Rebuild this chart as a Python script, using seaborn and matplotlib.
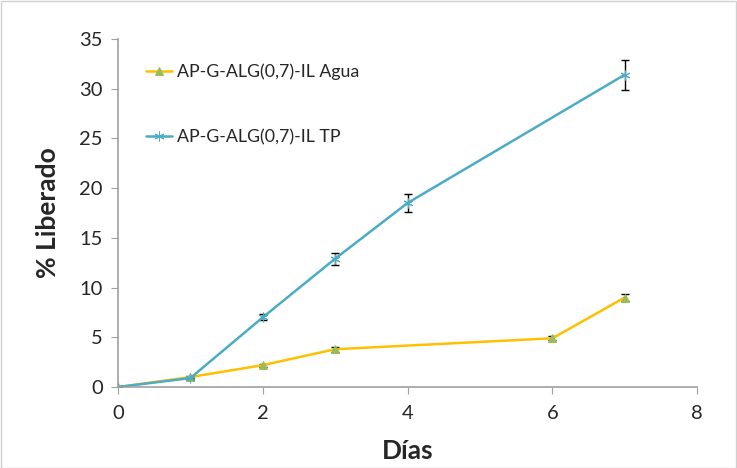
import matplotlib
matplotlib.use("Agg")
import matplotlib.pyplot as plt
import seaborn as sns
import pandas as pd

sns.set_style("white")
plt.rcParams['font.family'] = ['Lato', 'DejaVu Sans']

dias_agua = [0, 1, 2, 3, 6, 7]
lib_agua = [0.0, 1.0, 2.2, 3.8, 4.9, 9.0]
err_agua = [0.0, 0.1, 0.15, 0.25, 0.2, 0.4]

dias_tp = [0, 1, 2, 3, 4, 7]
lib_tp = [0.0, 0.9, 7.0, 12.9, 18.5, 31.4]
err_tp = [0.0, 0.1, 0.3, 0.6, 0.9, 1.5]

lab_agua = "AP-G-ALG(0,7)-IL Agua"
lab_tp = "AP-G-ALG(0,7)-IL TP"

df = pd.concat([
    pd.DataFrame({"Días": dias_agua, "Lib": lib_agua, "err": err_agua, "serie": lab_agua}),
    pd.DataFrame({"Días": dias_tp, "Lib": lib_tp, "err": err_tp, "serie": lab_tp}),
])

fig = plt.figure(figsize=(7.37, 4.68), dpi=100)
ax = fig.add_axes([0.160, 0.173, 0.786, 0.744])

c_agua = "#FFC000"
c_tp = "#4BACC6"

for lab, col, mk, mcol, ms in [(lab_agua, c_agua, "^", "#9BBB59", 6), (lab_tp, c_tp, (6, 2, 0), c_tp, 7)]:
    sub = df[df.serie == lab]
    ax.errorbar(sub["Días"], sub["Lib"], yerr=sub["err"], fmt="none", ecolor="black",
                elinewidth=1, capsize=3, capthick=1, zorder=1)
    sns.lineplot(data=sub, x="Días", y="Lib", ax=ax, color=col, linewidth=1.8,
                 marker=mk, markersize=ms, markerfacecolor=mcol, markeredgecolor=mcol,
                 label=lab, zorder=2)

ax.set_xlim(0, 8)
ax.set_ylim(0, 35)
ax.set_xticks([0, 2, 4, 6, 8])
ax.set_yticks(range(0, 36, 5))
ax.tick_params(axis='both', labelsize=14.5, length=5, color="#A0A0A0", direction="out",
               bottom=True, left=True)
ax.tick_params(axis='x', pad=8)
ax.tick_params(axis='y', pad=6)
ax.set_xlabel("Días", fontsize=19, fontweight="bold", labelpad=12)
ax.set_ylabel("% Liberado", fontsize=19, fontweight="bold", labelpad=14)
for s in ["top", "right"]:
    ax.spines[s].set_visible(False)
for s in ["left", "bottom"]:
    ax.spines[s].set_color("#A0A0A0")
    ax.spines[s].set_linewidth(1.2)

leg = ax.legend(loc="upper left", bbox_to_anchor=(0.02, 0.975), frameon=False, fontsize=12.8,
                handlelength=1.5, handletextpad=0.25, labelspacing=2.75)

fig.patches.append(plt.Rectangle((0.001, 0.001), 0.997, 0.997, transform=fig.transFigure,
                                 fill=False, edgecolor="#D0D0D0", linewidth=1))
fig.savefig("out.png", dpi=100)
